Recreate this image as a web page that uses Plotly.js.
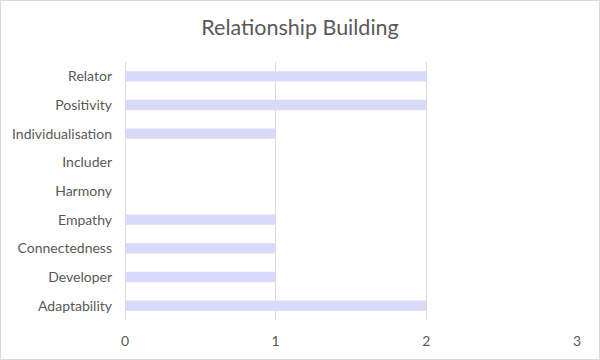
<!DOCTYPE html>
<html>
<head>
<meta charset="utf-8">
<script src="https://cdn.plot.ly/plotly-3.0.1.min.js"></script>
<style>
html,body{margin:0;padding:0;background:#fff;}
#chart{width:598px;height:358px;border:1px solid #d9d9d9;}
</style>
</head>
<body>
<div id="chart"></div>
<script>
const categories = ["Adaptability","Developer","Connectedness","Empathy","Harmony","Includer","Individualisation","Positivity","Relator"];
const values = [2,1,1,1,0,0,1,2,2];
const xTicks = [0,1,2,3];

const trace = {
  type: 'bar',
  orientation: 'h',
  y: categories,
  x: values,
  width: 0.36,
  marker: {color: '#d9d9fa'},
  hoverinfo: 'x+y'
};

const layout = {
  width: 598, height: 358,
  margin: {l: 124, r: 22, t: 61, b: 39},
  paper_bgcolor: '#ffffff',
  plot_bgcolor: '#ffffff',
  title: {text: 'Relationship Building', font: {family: 'Lato, "Open Sans", sans-serif', size: 21.5, color: '#595959'}, x: 0.5, xanchor: 'center', y: 0.925, yanchor: 'middle'},
  font: {family: 'Lato, "Open Sans", sans-serif', size: 14, color: '#595959'},
  xaxis: {
    range: [0, 3],
    tickvals: xTicks,
    ticktext: xTicks.map(String),
    showgrid: true, gridcolor: '#d9d9d9', gridwidth: 1,
    zeroline: true, zerolinecolor: '#d9d9d9', zerolinewidth: 1,
    showline: false, ticks: '', ticklabelstandoff: 11,
    tickfont: {size: 14, color: '#595959'},
    fixedrange: true
  },
  yaxis: {
    type: 'category',
    categoryorder: 'array', categoryarray: categories,
    showgrid: false, zeroline: false, showline: false, ticks: '',
    ticklabelstandoff: 12,
    tickfont: {size: 14, color: '#595959'},
    fixedrange: true
  },
  showlegend: false,
  bargap: 0.64
};

Plotly.newPlot('chart', [trace], layout, {displayModeBar: false, staticPlot: true});
</script>
</body>
</html>
